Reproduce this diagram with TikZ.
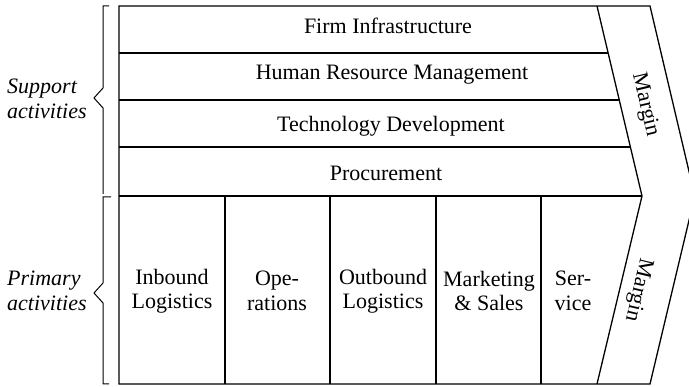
\documentclass[tikz,border=0pt]{standalone}
\usepackage{fontspec}
\setmainfont{Liberation Serif}
\begin{document}
\begin{tikzpicture}[x=1pt,y=-1pt,
  frame/.style={line width=1.3pt, line join=miter},
  bracket/.style={line width=1pt},
  lbl/.style={font=\fontsize{22}{24.5}\selectfont, align=center, inner sep=0pt},
  side/.style={font=\fontsize{22}{24.5}\selectfont\itshape, align=left, inner sep=0pt, anchor=west},
  margin/.style={font=\fontsize{22}{24.5}\selectfont, inner sep=0pt}]
\useasboundingbox (0,0) rectangle (689,387);

% outer chevron outline (tip runs past the right edge)
\begin{scope}
  \clip (0,0) rectangle (689,387);
  \draw[frame] (119,6) -- (650,6) -- (694.8,196) -- (650,384) -- (119,384) -- cycle;
\end{scope}

% inner margin band edge
\coordinate (mt) at (597,6);
\coordinate (mm) at (642,196);
\coordinate (mb) at (597,384);
\draw[frame] (mt) -- (mm) -- (mb);

% support activity rows
\draw[frame] (119,53) -- (608.1,53);
\draw[frame] (119,100) -- (619.2,100);
\draw[frame] (119,147) -- (630.3,147);
\draw[frame] (119,196) -- (mm);

% primary activity columns
\foreach \x in {225,330,436,541} \draw[frame] (\x,196) -- (\x,384);

% brackets
\draw[bracket] (109,6) -- (103,6) -- (103,88) -- (94,98) -- (103,108) -- (103,194);
\draw[bracket] (111,197) -- (103,197) -- (103,283) -- (94,293) -- (103,303) -- (103,384) -- (109,384);

% support activity labels
\node[lbl] (firm) at (388,26) {Firm Infrastructure};
\node[lbl] (hrm) at (392,75) {Human Resource Management};
\node[lbl] (tech) at (391,126) {Technology Development};
\node[lbl] (proc) at (386,173) {Procurement};

% primary activity labels
\node[lbl] (inb) at (172,291) {Inbound\\Logistics};
\node[lbl] (ops) at (277,291) {Ope-\\rations};
\node[lbl] (outb) at (383,291) {Outbound\\Logistics};
\node[lbl] (mkt) at (489,291) {Marketing\\\& Sales};
\node[lbl] (srv) at (573,291) {Ser-\\vice};

% side labels
\node[side] (sup) at (7,99) {Support\\activities};
\node[side] (pri) at (7,291) {Primary\\activities};

% margin labels
\node[margin, rotate=-76.7] (m1) at (645,105) {Margin};
\node[margin, rotate=-103.3] (m2) at (638,290) {Margin};
\end{tikzpicture}
\end{document}
